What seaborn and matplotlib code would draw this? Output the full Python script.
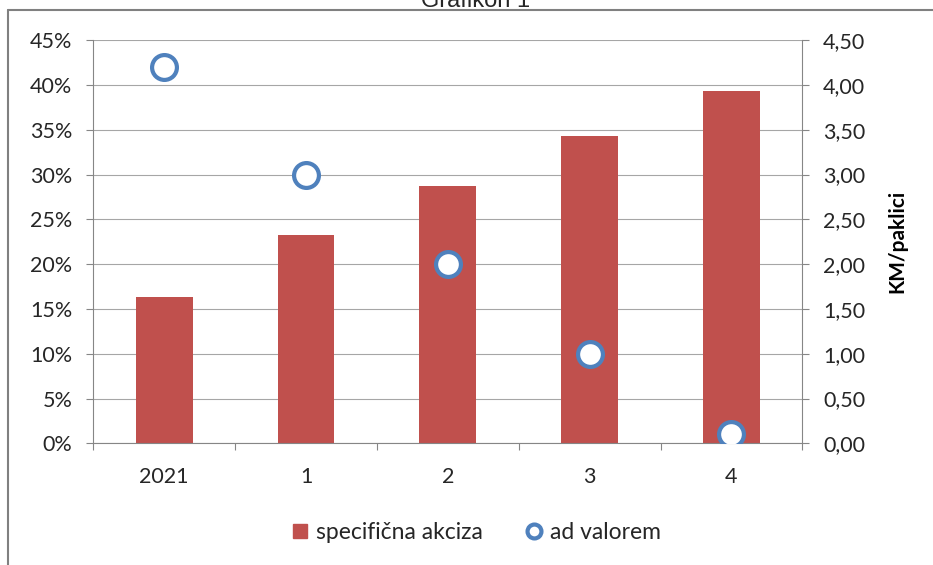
import matplotlib.pyplot as plt
import numpy as np
import pandas as pd
import seaborn as sns
from matplotlib.lines import Line2D

# values
categories = ['2021', '1', '2', '3', '4']
specificna = [1.63, 2.32, 2.87, 3.43, 3.93]   # KM/paklici (right axis)
ad_valorem = [0.42, 0.30, 0.20, 0.10, 0.01]   # share (left axis)

pct_ticks = np.arange(0, 0.451, 0.05)
km_ticks = np.arange(0, 4.51, 0.5)

df = pd.DataFrame({'god': categories, 'spec': specificna, 'adv': ad_valorem})

sns.set_style('white')
plt.rcParams['font.family'] = ['Lato', 'DejaVu Sans']

red = '#C0504D'
blue = '#4F81BD'
axcol = '#868686'
gridcol = '#A6A6A6'
txtcol = '#262626'

fig = plt.figure(figsize=(9.33, 5.65), dpi=100)
ax = fig.add_axes([0.1, 0.2154, 0.76, 0.7134])
ax2 = ax.twinx()

# bars on KM axis, circles on % axis (circles on top)
sns.barplot(data=df, x='god', y='spec', order=categories, color=red, saturation=1,
            width=0.4, linewidth=0, ax=ax2)
sns.scatterplot(data=df, x='god', y='adv', ax=ax, s=320, color='white',
                edgecolor=blue, linewidth=3.0, zorder=5)

ax.set_zorder(ax2.get_zorder() + 1)
ax.patch.set_visible(False)

ax.set_ylim(0, 0.45)
ax2.set_ylim(0, 4.5)
ax.set_xlim(-0.5, len(categories) - 0.5)

ax.set_yticks(pct_ticks, [f'{v*100:.0f}%' for v in pct_ticks])
ax2.set_yticks(km_ticks, [f'{v:.2f}'.replace('.', ',') for v in km_ticks])
ax.set_xticks(range(len(categories)), categories)
ax.set_xticks(np.arange(-0.5, len(categories)), minor=True)

ax2.yaxis.grid(True, color=gridcol, lw=0.8)
ax2.set_axisbelow(True)

fs = 15.5
ax.tick_params(axis='x', which='major', bottom=False, length=0, pad=17,
               labelsize=fs, labelcolor=txtcol)
ax.tick_params(axis='x', which='minor', bottom=True, length=5, width=0.8,
               color=axcol, direction='out')
ax.tick_params(axis='y', left=True, length=5, width=0.8, color=axcol,
               direction='out', pad=10, labelsize=fs, labelcolor=txtcol)
ax2.tick_params(axis='y', right=True, length=5, width=0.8, color=axcol,
                direction='out', pad=10, labelsize=fs, labelcolor=txtcol)

for s in ['top', 'right']:
    ax.spines[s].set_visible(False)
for s in ['left', 'bottom']:
    ax.spines[s].set_color(axcol)
    ax.spines[s].set_linewidth(0.8)
for s in ['top', 'left', 'bottom']:
    ax2.spines[s].set_visible(False)
ax2.spines['right'].set_color(axcol)
ax2.spines['right'].set_linewidth(0.8)

ax.set_xlabel('')
ax.set_ylabel('')
ax2.set_xlabel('')
ax2.set_ylabel('KM/paklici', fontweight='bold', fontsize=15, color='black')
ax2.yaxis.set_label_coords(1.12, 0.5)

handles = [Line2D([], [], ls='none', marker='s', ms=10, mfc=red, mec=red),
           Line2D([], [], ls='none', marker='o', ms=10, mfc='white', mec=blue, mew=3)]
fig.legend(handles, ['specifična akciza', 'ad valorem'], loc='center',
           bbox_to_anchor=(0.51, 0.058), ncol=2, frameon=False, fontsize=16.5,
           handlelength=0.8, handletextpad=0.3, columnspacing=1.8,
           labelcolor=txtcol)

# chart title cut off at the top, as in the source, and the frame border
fig.text(0.51, 1 - 7/565, 'Grafikon 1', ha='center', va='baseline',
         family='Liberation Sans', fontsize=17)
fig.add_artist(Line2D([8/933, 1], [1 - 10/565] * 2, transform=fig.transFigure,
                      color='#808080', lw=1.5))
fig.add_artist(Line2D([8/933] * 2, [0, 1 - 10/565], transform=fig.transFigure,
                      color='#808080', lw=1.5))

fig.savefig('out.png', dpi=100)
